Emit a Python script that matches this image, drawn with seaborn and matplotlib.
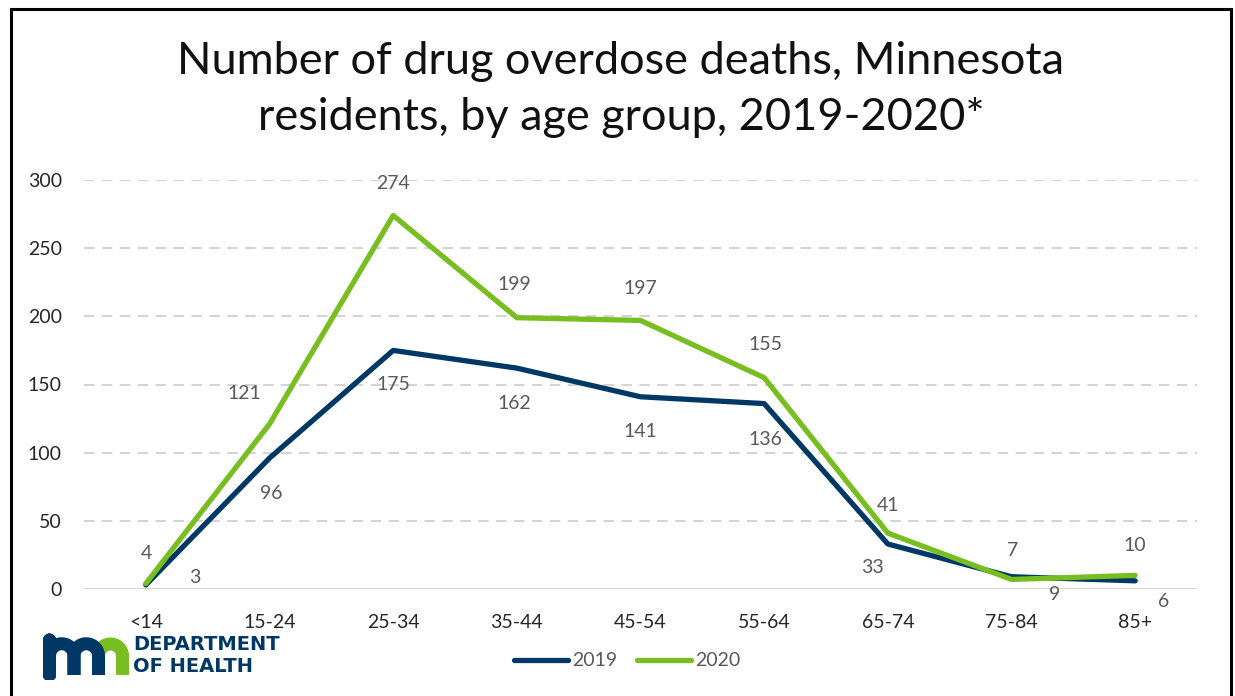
import numpy as np
import pandas as pd
import matplotlib
matplotlib.use("Agg")
import matplotlib.pyplot as plt
from matplotlib.patches import Rectangle
from matplotlib.lines import Line2D
import seaborn as sns

# Drug overdose deaths among Minnesota residents by age group
age_groups = ["<14", "15-24", "25-34", "35-44", "45-54", "55-64", "65-74", "75-84", "85+"]
deaths_2019 = [3, 96, 175, 162, 141, 136, 33, 9, 6]
deaths_2020 = [4, 121, 274, 199, 197, 155, 41, 7, 10]
years = ["2019", "2020"]
y_ticks = [0, 50, 100, 150, 200, 250, 300]

NAVY = "#003865"
GREEN = "#78BE21"

df = pd.DataFrame({
    "age": age_groups * 2,
    "deaths": deaths_2019 + deaths_2020,
    "year": [years[0]] * len(age_groups) + [years[1]] * len(age_groups),
})

sns.set_theme(style="white")
plt.rcParams["font.family"] = ["Lato", "DejaVu Sans"]

W, H = 1235, 696
fig = plt.figure(figsize=(W / 100, H / 100), dpi=100)
ax = fig.add_axes([84 / W, 1 - 589 / H, (1197 - 84) / W, (589 - 180) / H])

sns.lineplot(data=df, x="age", y="deaths", hue="year", palette=[NAVY, GREEN],
             linewidth=3.8, sort=False, legend=False, ax=ax, zorder=3)
for ln in ax.lines:
    ln.set_solid_joinstyle("round")
    ln.set_solid_capstyle("round")

ax.set_xlim(-0.5, len(age_groups) - 0.5)
ax.set_ylim(0, 300)
ax.set_yticks(y_ticks)
ax.set_xticks(range(len(age_groups)))
ax.set_xticklabels(age_groups)
ax.set_xlabel("")
ax.set_ylabel("")
for s in ax.spines.values():
    s.set_visible(False)
ax.tick_params(axis="y", length=0, pad=16, labelsize=14, labelcolor="#262626")
ax.tick_params(axis="x", length=0, pad=18, labelsize=14, labelcolor="#262626")

# dashed horizontal gridlines plus solid baseline
for v in y_ticks[1:]:
    ax.axhline(v, color="#d4d4d4", lw=1.5, ls=(0, (5.0, 3.6)), zorder=1)
ax.axhline(0, color="#d4d4d4", lw=1.5, zorder=1)

# value labels (pixel offsets from each point)
off_2019 = [(49, 7), (2, -35), (0, -34), (-2, -35), (0, -35), (1, -36), (-15, -23), (43, -18), (28, -21)]
off_2020 = [(1, 30), (-25, 31), (0, 32), (-2, 33), (0, 32), (1, 33), (0, 28), (1, 29), (0, 30)]
for series, offs in ((deaths_2019, off_2019), (deaths_2020, off_2020)):
    for i, (v, (dx, dy)) in enumerate(zip(series, offs)):
        ax.annotate(str(v), (i, v), xytext=(dx, dy), textcoords="offset pixels",
                    ha="center", va="center", fontsize=14, color="#595959", zorder=4)

# title
fig.text(621 / W, 1 - 62 / H, "Number of drug overdose deaths, Minnesota",
         ha="center", va="center", fontsize=32.5, color="#111111")
fig.text(621 / W, 1 - 118 / H, "residents, by age group, 2019-2020*",
         ha="center", va="center", fontsize=32.5, color="#111111")

# legend
handles = [Line2D([0], [0], color=NAVY, lw=3.8, solid_capstyle="round"),
           Line2D([0], [0], color=GREEN, lw=3.8, solid_capstyle="round")]
fig.legend(handles, years, loc="center", bbox_to_anchor=(627 / W, 1 - 661 / H),
           ncol=2, frameon=False, fontsize=14, labelcolor="#595959",
           handlelength=2.8, handletextpad=0.2, columnspacing=1.0)

# department logo
lax = fig.add_axes([40 / W, 1 - 680 / H, 90 / W, 50 / H])
lax.set_xlim(40, 130)
lax.set_ylim(680, 630)
lax.axis("off")
lw_logo = 13 * 0.72
stems = [49.5, 74.0, 98.5, 122.5]
cy = 656
t = np.linspace(np.pi, 0, 40)
for k in range(3):
    col = NAVY if k < 2 else GREEN
    x0, x1 = stems[k], stems[k + 1]
    xc = (x0 + x1) / 2
    rr = (x1 - x0) / 2
    xs = np.concatenate([[x0], xc + rr * np.cos(t), [x1]])
    ys = np.concatenate([[675], cy - rr * np.sin(t), [675]])
    if k == 0:
        xs = np.concatenate([[x0, x0], xs])
        ys = np.concatenate([[675, 640], ys])
    lax.plot(xs, ys, color=col, lw=lw_logo, solid_capstyle="butt", solid_joinstyle="round",
             zorder=3 - k)
fig.text(133 / W, 1 - 645 / H, "DEPARTMENT", ha="left", va="center", fontsize=14,
         fontweight="bold", color=NAVY, family=["DejaVu Sans"])
fig.text(133 / W, 1 - 666 / H, "OF HEALTH", ha="left", va="center", fontsize=14,
         fontweight="bold", color=NAVY, family=["DejaVu Sans"])

# outer frame
fig.patches.append(Rectangle((10.5 / W, -0.05), (1231 - 10.5) / W, 1.05 - 9 / H,
                             transform=fig.transFigure, fill=False, lw=2.2,
                             edgecolor="black", clip_on=False))

fig.savefig("out.png", dpi=100)
